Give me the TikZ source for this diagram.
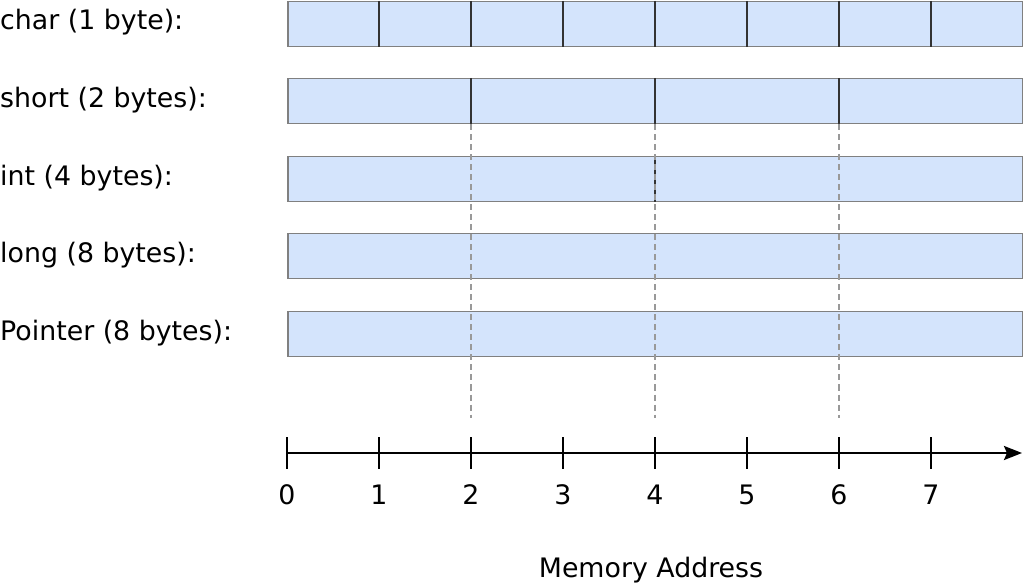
\documentclass[tikz,border=0pt]{standalone}
\usepackage{fontspec}
\setmainfont{DejaVu Sans}
\usetikzlibrary{arrows.meta}

\definecolor{cellFill}{HTML}{D4E4FC}
\definecolor{cellLine}{HTML}{808080}
\definecolor{divLine}{HTML}{333333}
\definecolor{dashLine}{HTML}{999999}

\begin{document}
\begin{tikzpicture}[x=1pt,y=-1pt,
		bar/.style={rectangle, draw=cellLine, fill=cellFill, line width=1.5pt, minimum width=735pt, minimum height=45pt, inner sep=0pt, anchor=north west},
		rowLabel/.style={anchor=west, inner sep=0pt, font=\fontsize{26.8}{32}\selectfont},
		tickLabel/.style={inner sep=0pt, font=\fontsize{26.8}{32}\selectfont},
		divider/.style={draw=divLine, line width=1.6pt},
		guide/.style={draw=dashLine, line width=1.4pt, dash pattern=on 6pt off 4pt}]
		
		\useasboundingbox (0,0) rectangle (1023,585);
		
		% Row labels
		
		\node[rowLabel] (charLabel) at (0,22.5) {char (1 byte):};
		\node[rowLabel] (shortLabel) at (0,100.5) {short (2 bytes):};
		\node[rowLabel] (intLabel) at (0,178) {int (4 bytes):};
		\node[rowLabel] (longLabel) at (0,255.5) {long (8 bytes):};
		\node[rowLabel] (ptrLabel) at (0,333.5) {Pointer (8 bytes):};
		
		% Bars
		
		\node[bar] (charBar) at (287,1) {};
		\node[bar] (shortBar) at (287,78) {};
		\node[bar] (intBar) at (287,156) {};
		\node[bar] (longBar) at (287,233) {};
		\node[bar] (ptrBar) at (287,311) {};
		
		% Axis points
		
		\foreach \i in {0,...,7}
		\coordinate (a\i) at (287+92*\i,453);
		\coordinate (axisEnd) at (1022,453);
		\coordinate (guideEnd) at (0,418);
		
		% Dividers
		
		\foreach \i in {1,...,7}
		\draw[divider] (charBar.north -| a\i) -- (charBar.south -| a\i);
		\foreach \i in {2,4,6}
		\draw[divider] (shortBar.north -| a\i) -- (shortBar.south -| a\i);
		\draw[divider] (intBar.north -| a4) -- (intBar.south -| a4);
		
		% Dashed guides
		
		\foreach \i in {2,4,6}
		\draw[guide] (shortBar.south -| a\i) -- (guideEnd -| a\i);
		
		% Axis
		
		\draw[line width=2.5pt, -{Stealth[length=18pt, width=14pt, inset=3pt]}] (a0) -- (axisEnd);
		\foreach \i in {0,...,7}
		\draw[line width=2.5pt] ([yshift=16pt]a\i) -- ([yshift=-16pt]a\i);
		
		% Tick labels
		
		\foreach \i in {0,...,7}
		\node[tickLabel] (t\i) at (287+92*\i,495) {\i};
		
		\node[tickLabel] (axisLabel) at (651,570) {Memory Address};
		
	\end{tikzpicture}
\end{document}
